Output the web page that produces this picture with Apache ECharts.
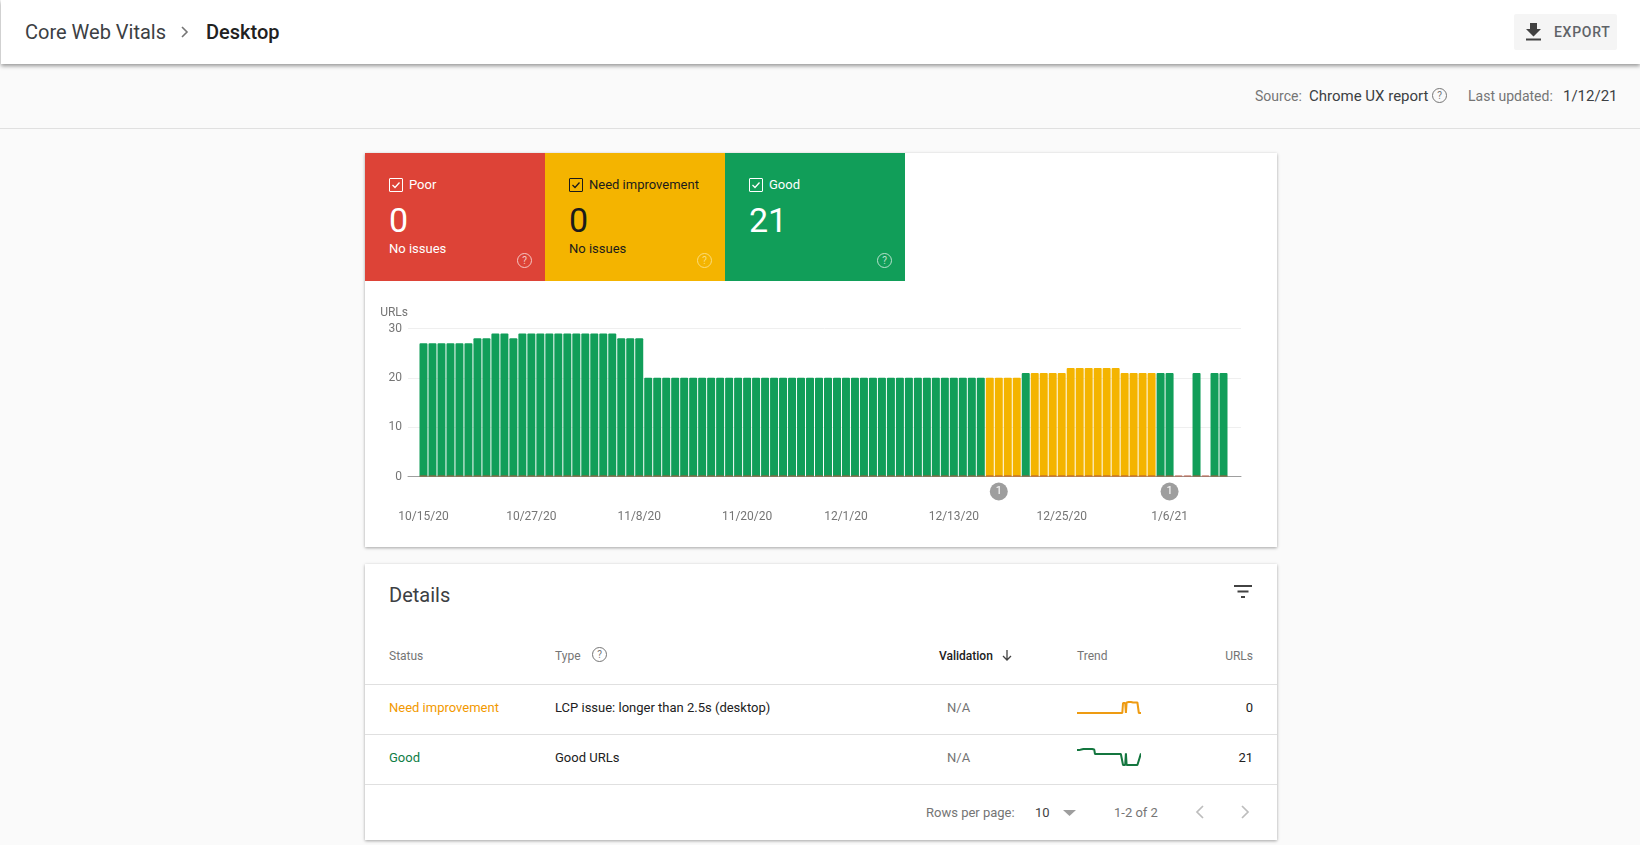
<!DOCTYPE html>
<html>
<head>
<meta charset="utf-8">
<script src="https://cdn.jsdelivr.net/npm/echarts@6/dist/echarts.min.js"></script>
<style>
  html, body { margin: 0; padding: 0; width: 1640px; height: 845px; overflow: hidden; background: #fafafa; font-family: Roboto, sans-serif; color: #212121; }
  .abs, .abs * { box-sizing: border-box; }
  .abs { position: absolute; white-space: nowrap; }
  .card { background: #fff; box-shadow: 0 1px 3px rgba(0,0,0,.35); }
  .grey { color: #757575; }
  .t14 { font-size: 14px; line-height: 16px; }
  .t13 { font-size: 13px; line-height: 16px; }
  .t12 { font-size: 12px; line-height: 16px; }
  .tile { top: 153px; width: 180px; height: 128px; color: #fff; }
  .tile .abs { color: inherit; }
  .box { left: 24px; top: 25px; width: 14px; height: 14px; border: 1px solid currentColor; border-radius: 1px; }
  .help { width: 15px; height: 15px; border: 1.4px solid currentColor; border-radius: 50%; font-size: 10px; line-height: 13px; text-align: center; }
  .row-line { left: 365px; width: 912px; height: 1px; background: #e0e0e0; }
</style>
</head>
<body>
<!-- page header -->
<div class="abs" style="left:1px;top:0;width:1639px;height:64px;background:#fff;box-shadow:0 2px 4px rgba(0,0,0,.4);z-index:2"></div>
<div class="abs" style="left:25px;top:20px;font-size:20px;line-height:24px;color:#3c4043;z-index:3">Core Web Vitals</div>
<svg class="abs" style="left:180px;top:24px;z-index:3" width="10" height="16"><path d="M2 3l5 5-5 5" fill="none" stroke="#757575" stroke-width="1.6"/></svg>
<div class="abs" style="left:206px;top:20px;font-size:20px;line-height:24px;font-weight:500;color:#212121;z-index:3">Desktop</div>
<div class="abs" style="left:1514px;top:14px;width:103px;height:36px;background:#f5f5f5;border-radius:2px;z-index:3"></div>
<svg class="abs" style="left:1525px;top:22px;z-index:3" width="18" height="20"><path d="M5 1h7v6h4l-7.500 7.500L1 7h4zM1 16.500h15v2H1z" fill="#424242"/></svg>
<div class="abs" style="left:1554px;top:24px;font-size:14px;line-height:16px;font-weight:500;letter-spacing:.7px;color:#5f6368;z-index:3">EXPORT</div>

<!-- source bar -->
<div class="abs" style="left:0;top:128px;width:1640px;height:1px;background:#e0e0e0"></div>
<div class="abs t14 grey" style="left:1255px;top:88px">Source:</div>
<div class="abs" style="left:1309px;top:88px;font-size:15px;line-height:16px;color:#3c4043">Chrome UX report</div>
<div class="abs help grey" style="left:1432px;top:88px">?</div>
<div class="abs t14 grey" style="left:1468px;top:88px">Last updated:</div>
<div class="abs" style="left:1563px;top:88px;font-size:15px;line-height:16px;color:#3c4043">1/12/21</div>

<!-- summary card -->
<div class="abs card" style="left:365px;top:153px;width:912px;height:394px"></div>
<div class="abs tile" style="left:365px;background:#dd4337">
  <div class="abs box"><svg width="12" height="12" style="display:block"><path d="M2.500 6l2.500 2.500 4.500-5" fill="none" stroke="#fff" stroke-width="1.300"/></svg></div>
  <div class="abs t13" style="left:44px;top:24px">Poor</div>
  <div class="abs" style="left:24px;top:47px;font-size:34px;line-height:40px">0</div>
  <div class="abs t13" style="left:24px;top:88px">No issues</div>
  <div class="abs help" style="left:152px;top:100px;opacity:.7">?</div>
</div>
<div class="abs tile" style="left:545px;background:#f4b400;color:#1b1b1b">
  <div class="abs box"><svg width="12" height="12" style="display:block"><path d="M2.500 6l2.500 2.500 4.500-5" fill="none" stroke="#1b1b1b" stroke-width="1.300"/></svg></div>
  <div class="abs t13" style="left:44px;top:24px">Need improvement</div>
  <div class="abs" style="left:24px;top:47px;font-size:34px;line-height:40px">0</div>
  <div class="abs t13" style="left:24px;top:88px">No issues</div>
  <div class="abs help" style="left:152px;top:100px;color:#fbdc7c">?</div>
</div>
<div class="abs tile" style="left:725px;background:#119e59">
  <div class="abs box"><svg width="12" height="12" style="display:block"><path d="M2.500 6l2.500 2.500 4.500-5" fill="none" stroke="#fff" stroke-width="1.300"/></svg></div>
  <div class="abs t13" style="left:44px;top:24px">Good</div>
  <div class="abs" style="left:24px;top:47px;font-size:34px;line-height:40px">21</div>
  <div class="abs help" style="left:152px;top:100px;opacity:.7">?</div>
</div>
<div id="main" class="abs" style="left:365px;top:281px;width:912px;height:266px"></div>

<!-- details card -->
<div class="abs card" style="left:365px;top:564px;width:912px;height:276px"></div>
<div class="abs" style="left:389px;top:583px;font-size:20px;line-height:24px;color:#3c4043">Details</div>
<svg class="abs" style="left:1233px;top:584px" width="20" height="16"><path d="M1 2h18M4.500 7.500h11M8 13h4" stroke="#424242" stroke-width="1.800" fill="none"/></svg>
<div class="abs t12 grey" style="left:389px;top:648px">Status</div>
<div class="abs t12 grey" style="left:555px;top:648px">Type</div>
<div class="abs help grey" style="left:592px;top:647px">?</div>
<div class="abs t12" style="left:939px;top:648px;font-weight:500">Validation</div>
<svg class="abs" style="left:1001px;top:649px" width="12" height="13"><path d="M6 1v10M2 7l4 4 4-4" fill="none" stroke="#424242" stroke-width="1.300"/></svg>
<div class="abs t12 grey" style="left:1077px;top:648px">Trend</div>
<div class="abs t12 grey" style="right:387px;top:648px">URLs</div>
<div class="abs row-line" style="top:684px"></div>
<div class="abs t13" style="left:389px;top:700px;color:#f29900">Need improvement</div>
<div class="abs t13" style="left:555px;top:700px">LCP issue: longer than 2.5s (desktop)</div>
<div class="abs t13 grey" style="left:947px;top:700px">N/A</div>
<div id="sparkNeed" class="abs" style="left:1077px;top:699.500px;width:64px;height:15px"></div>
<div class="abs t13" style="right:387px;top:700px">0</div>
<div class="abs row-line" style="top:734px"></div>
<div class="abs t13" style="left:389px;top:750px;color:#0f7d46">Good</div>
<div class="abs t13" style="left:555px;top:750px">Good URLs</div>
<div class="abs t13 grey" style="left:947px;top:750px">N/A</div>
<div id="sparkGood" class="abs" style="left:1077px;top:746.500px;width:64px;height:20px"></div>
<div class="abs t13" style="right:387px;top:750px">21</div>
<div class="abs row-line" style="top:784px"></div>
<div class="abs t13 grey" style="left:926px;top:805px">Rows per page:</div>
<div class="abs t13" style="left:1035px;top:805px;color:#424242">10</div>
<svg class="abs" style="left:1063px;top:809px" width="13" height="8"><path d="M0 1h13l-6.500 6z" fill="#9e9e9e"/></svg>
<div class="abs t13 grey" style="left:1114px;top:805px">1-2 of 2</div>
<svg class="abs" style="left:1195px;top:804px" width="10" height="16"><path d="M8 2L2 8l6 6" fill="none" stroke="#bdbdbd" stroke-width="1.700"/></svg>
<svg class="abs" style="left:1240px;top:804px" width="10" height="16"><path d="M2 2l6 6-6 6" fill="none" stroke="#bdbdbd" stroke-width="1.700"/></svg>

<script type="text/javascript">
var dates = [
    '10/15/20','10/16/20','10/17/20','10/18/20','10/19/20','10/20/20','10/21/20','10/22/20','10/23/20','10/24/20',
    '10/25/20','10/26/20','10/27/20','10/28/20','10/29/20','10/30/20','10/31/20','11/1/20','11/2/20','11/3/20',
    '11/4/20','11/5/20','11/6/20','11/7/20','11/8/20','11/9/20','11/10/20','11/11/20','11/12/20','11/13/20',
    '11/14/20','11/15/20','11/16/20','11/17/20','11/18/20','11/19/20','11/20/20','11/21/20','11/22/20','11/23/20',
    '11/24/20','11/25/20','11/26/20','11/27/20','11/28/20','11/29/20','11/30/20','12/1/20','12/2/20','12/3/20',
    '12/4/20','12/5/20','12/6/20','12/7/20','12/8/20','12/9/20','12/10/20','12/11/20','12/12/20','12/13/20',
    '12/14/20','12/15/20','12/16/20','12/17/20','12/18/20','12/19/20','12/20/20','12/21/20','12/22/20','12/23/20',
    '12/24/20','12/25/20','12/26/20','12/27/20','12/28/20','12/29/20','12/30/20','12/31/20','1/1/21','1/2/21',
    '1/3/21','1/4/21','1/5/21','1/6/21','1/7/21','1/8/21','1/9/21','1/10/21','1/11/21','1/12/21'
]
var tickDates = ['10/15/20','10/27/20','11/8/20','11/20/20','12/1/20','12/13/20','12/25/20','1/6/21']
var yTicks = [0, 10, 20, 30]
var good = [
    27,27,27,27,27,27,28,28,29,29,
    28,29,29,29,29,29,29,29,29,29,
    29,29,28,28,28,20,20,20,20,20,
    20,20,20,20,20,20,20,20,20,20,
    20,20,20,20,20,20,20,20,20,20,
    20,20,20,20,20,20,20,20,20,20,
    20,20,20,null,null,null,null,21,null,null,
    null,null,null,null,null,null,null,null,null,null,
    null,null,21,21,null,null,21,null,21,21
]
var needImprovement = [
    null,null,null,null,null,null,null,null,null,null,
    null,null,null,null,null,null,null,null,null,null,
    null,null,null,null,null,null,null,null,null,null,
    null,null,null,null,null,null,null,null,null,null,
    null,null,null,null,null,null,null,null,null,null,
    null,null,null,null,null,null,null,null,null,null,
    null,null,null,20,20,20,20,null,21,21,
    21,21,22,22,22,22,22,22,21,21,
    21,21,null,null,null,null,null,null,null,null
]
var poor = [
    0,0,0,0,0,0,0,0,0,0,0,0,0,0,0,0,0,0,0,0,0,0,0,0,0,0,0,0,0,0,
    0,0,0,0,0,0,0,0,0,0,0,0,0,0,0,0,0,0,0,0,0,0,0,0,0,0,0,0,0,0,
    0,0,0,0,0,0,0,0,0,0,0,0,0,0,0,0,0,0,0,0,0,0,0,0,0,0,0,0,0,0
]
var annotationDates = ['12/18/20', '1/6/21']
var annotationCounts = ['1', '1']
// 表格里的趋势小图
var trendNeed = [
    0,0,0,0,0,0,0,0,0,0,0,0,0,0,0,0,0,0,0,0,
    0,0,0,0,0,0,0,0,0,0,0,0,0,0,0,0,0,0,0,0,
    0,0,0,0,0,0,0,0,0,0,0,0,0,0,0,0,0,0,0,0,
    0,0,0,0,20,20,20,20,0,21,
    21,21,22,22,22,22,22,22,21,21,
    21,21,21,21,21,21,0,0,0,0
]
var trendGood = [
    27,27,27,27,27,27,28,28,29,29,
    28,29,29,29,29,29,29,29,29,29,
    29,29,28,28,28,20,20,20,20,20,
    20,20,20,20,20,20,20,20,20,20,
    20,20,20,20,20,20,20,20,20,20,
    20,20,20,20,20,20,20,20,20,20,
    20,20,20,20,0,0,0,0,21,0,
    0,0,0,0,0,0,0,0,0,0,
    0,0,0,0,0,0,null,null,null,21
]

var textColor = '#757575'

function barSeries(name, data, color, z) {
    return {
        name: name,
        type: 'bar',
        xAxisIndex: 1,
        yAxisIndex: 1,
        barWidth: 8,
        barGap: '-100%',
        data: data,
        z: z,
        itemStyle: { color: color, borderRadius: [1, 1, 0, 0] }
    }
}

var goodSeries = barSeries('Good', good, '#119e59', 3)
goodSeries.markPoint = {
    symbol: 'circle',
    symbolSize: 18,
    symbolOffset: [0, 15],
    itemStyle: { color: '#9e9e9e' },
    label: { color: '#fff', fontSize: 11, fontFamily: 'Roboto' },
    data: annotationDates.map(function (d, i) {
        return { coord: [d, 0], value: annotationCounts[i] }
    })
}
var poorSeries = barSeries('Poor', poor, '#b5533a', 4)
poorSeries.barMinHeight = 1

var myChart = echarts.init(document.getElementById('main'))
myChart.setOption({
    animation: false,
    textStyle: { fontFamily: 'Roboto' },
    // 第一个 grid 只画网格线，第二个 grid 画柱子（柱子比网格线窄一点）
    grid: [
        { left: 43, top: 47.5, width: 833, height: 148 },
        { left: 54, top: 47.5, width: 809, height: 148 }
    ],
    xAxis: [
        {
            type: 'category',
            gridIndex: 0,
            data: dates,
            axisLine: { lineStyle: { color: '#9e9e9e', width: 1 } },
            axisTick: { show: false },
            axisLabel: { show: false }
        },
        {
            type: 'category',
            gridIndex: 1,
            data: dates,
            axisLine: { show: false },
            axisTick: { show: false },
            axisLabel: {
                color: textColor,
                fontSize: 12,
                margin: 34,
                hideOverlap: false,
                interval: function (index, value) {
                    return tickDates.indexOf(value) >= 0
                }
            }
        }
    ],
    yAxis: [
        {
            type: 'value',
            gridIndex: 0,
            min: yTicks[0],
            max: yTicks[yTicks.length - 1],
            interval: yTicks[1] - yTicks[0],
            name: 'URLs',
            nameGap: 10,
            nameTextStyle: { color: textColor, fontSize: 12, align: 'right', verticalAlign: 'bottom' },
            axisLine: { show: false },
            axisTick: { show: false },
            axisLabel: { color: textColor, fontSize: 12, margin: 6, padding: [4, 0, 0, 0] },
            splitLine: { lineStyle: { color: '#efefef', width: 1 } }
        },
        {
            type: 'value',
            gridIndex: 1,
            min: yTicks[0],
            max: yTicks[yTicks.length - 1],
            interval: yTicks[1] - yTicks[0],
            axisLine: { show: false },
            axisTick: { show: false },
            axisLabel: { show: false },
            splitLine: { show: false }
        }
    ],
    series: [
        goodSeries,
        barSeries('Need improvement', needImprovement, '#f4b400', 3),
        poorSeries
    ]
})

function drawTrend(id, data, color) {
    var chart = echarts.init(document.getElementById(id))
    chart.setOption({
        animation: false,
        grid: { left: 0, right: 0, top: 2, bottom: 2 },
        xAxis: { type: 'category', show: false, boundaryGap: false, data: dates },
        yAxis: { type: 'value', show: false, min: 0, max: 'dataMax' },
        series: [{
            type: 'line',
            data: data,
            connectNulls: true,
            showSymbol: false,
            clip: false,
            lineStyle: { color: color, width: 2 }
        }]
    })
}
drawTrend('sparkNeed', trendNeed, '#ee9b12')
drawTrend('sparkGood', trendGood, '#14763f')
</script>
</body>
</html>
